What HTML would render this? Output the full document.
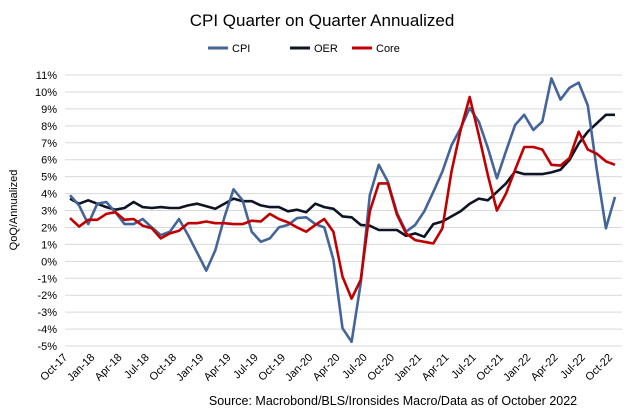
<!DOCTYPE html>
<html><head><meta charset="utf-8"><style>
body{margin:0;background:#fff;font-family:"Liberation Sans",Arial,sans-serif}
svg{display:block}
</style></head><body>
<svg id="chart" width="635" height="414" xmlns="http://www.w3.org/2000/svg" font-family="Liberation Sans, Arial, sans-serif">
<text x="322" y="26" text-anchor="middle" font-size="17">CPI Quarter on Quarter Annualized</text>
<g>
<line x1="208" y1="48" x2="228" y2="48" stroke="#44659a" stroke-width="3"/>
<text x="232" y="52" font-size="11">CPI</text>
<line x1="290" y1="48" x2="310" y2="48" stroke="#0d1426" stroke-width="3"/>
<text x="314" y="52" font-size="11">OER</text>
<line x1="352" y1="48" x2="372" y2="48" stroke="#c00000" stroke-width="3"/>
<text x="376" y="52" font-size="11">Core</text>
</g>
<text transform="translate(17,210) rotate(-90)" text-anchor="middle" font-size="11">QoQ/Annualized</text>
<text x="393" y="405" text-anchor="middle" font-size="12.5">Source: Macrobond/BLS/Ironsides Macro/Data as of October 2022</text>
<g id="grid"></g><g id="yt"></g><g id="xt"></g><g id="lines"></g>
</svg>
<script>
const yTicks=[11,10,9,8,7,6,5,4,3,2,1,0,-1,-2,-3,-4,-5];
const xLabels=["Oct-17","Jan-18","Apr-18","Jul-18","Oct-18","Jan-19","Apr-19","Jul-19","Oct-19","Jan-20","Apr-20","Jul-20","Oct-20","Jan-21","Apr-21","Jul-21","Oct-21","Jan-22","Apr-22","Jul-22","Oct-22"];
const cpi=[3.9,3.3,2.2,3.4,3.5,2.9,2.2,2.2,2.5,2.0,1.55,1.75,2.5,1.55,0.5,-0.55,0.65,2.6,4.25,3.6,1.75,1.15,1.35,2.0,2.15,2.55,2.6,2.2,2.0,0.1,-3.95,-4.75,-1.3,3.9,5.7,4.7,2.85,1.75,2.15,2.95,4.1,5.3,6.85,7.85,9.05,8.25,6.7,4.9,6.5,8.05,8.65,7.75,8.25,10.8,9.55,10.25,10.55,9.2,5.4,1.95,3.8];
const oer=[3.7,3.4,3.6,3.4,3.2,3.05,3.15,3.5,3.2,3.15,3.2,3.15,3.15,3.3,3.4,3.25,3.1,3.4,3.7,3.55,3.55,3.3,3.2,3.2,2.95,3.05,2.9,3.4,3.2,3.1,2.65,2.6,2.15,2.1,1.85,1.85,1.85,1.5,1.65,1.45,2.2,2.35,2.65,2.95,3.4,3.7,3.6,4.1,4.6,5.3,5.15,5.15,5.15,5.25,5.4,6.0,6.95,7.65,8.15,8.65,8.65];
const core=[2.55,2.05,2.45,2.45,2.8,2.9,2.45,2.5,2.1,1.95,1.35,1.65,1.8,2.25,2.25,2.35,2.25,2.25,2.2,2.2,2.4,2.35,2.8,2.5,2.3,2.0,1.75,2.15,2.5,1.75,-0.9,-2.2,-1.1,2.95,4.6,4.6,2.75,1.65,1.25,1.15,1.05,1.95,5.3,7.75,9.7,7.45,5.1,3.0,4.0,5.4,6.75,6.75,6.6,5.7,5.65,6.1,7.65,6.6,6.35,5.9,5.7];
const NS="http://www.w3.org/2000/svg";
const x0=70,x1=615,n=cpi.length;
function xs(i){return x0+(x1-x0)*i/(n-1);}
function ys(v){return 75+(11-v)*(346-75)/16;}
function mk(t,a,p){const e=document.createElementNS(NS,t);for(const k in a)e.setAttribute(k,a[k]);document.getElementById(p).appendChild(e);return e;}
yTicks.forEach(v=>{
 const g=mk("line",{x1:65,x2:622,y1:ys(v),y2:ys(v),stroke:"#d9d9d9","stroke-width":1},"grid");
 
 
 const t=mk("text",{x:57,y:ys(v)+4,"text-anchor":"end","font-size":11},"yt");
 t.textContent=v+"%";
 
 
});
xLabels.forEach((l,k)=>{
 const x=xs(k*3)-2,y=358;
 const t=mk("text",{x:x,y:y,"text-anchor":"end","font-size":11,transform:`rotate(-45 ${x} ${y})`},"xt");
 t.textContent=l;
 
 
});
[[oer,"#0d1426","oer-line"],[cpi,"#44659a","cpi-line"],[core,"#c00000","core-line"]].forEach(([d,c,nm])=>{
 const p=mk("polyline",{points:d.map((v,i)=>xs(i).toFixed(1)+","+ys(v).toFixed(1)).join(" "),fill:"none",stroke:c,"stroke-width":2.6,"stroke-linejoin":"round"},"lines");
 
 
});
</script>
</body></html>
